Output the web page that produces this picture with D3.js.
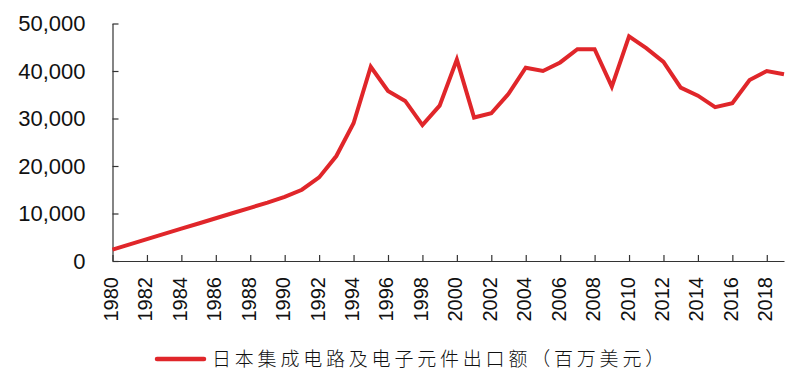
<!DOCTYPE html>
<html>
<head>
<meta charset="utf-8">
<script src="https://cdn.jsdelivr.net/npm/d3@7"></script>
<style>
  body { margin: 0; background: #fff; }
  .axis text { font-family: "Liberation Sans", Arial, sans-serif; fill: #111; }
  .axis path, .axis line { stroke: #333; stroke-width: 1.2; }
</style>
</head>
<body>
<div id="chart"></div>
<script>
// years and export value (million USD)
const years = d3.range(1980, 2020);
const values = [
  2400, 3500, 4600, 5700, 6800, 7900, 9000, 10100, 11200, 12300,
  13500, 15000, 17600, 22100, 29000, 40900, 35800, 33700, 28600, 32700,
  42400, 30200, 31100, 35200, 40700, 40000, 41800, 44600, 44600, 36700,
  47300, 44800, 41900, 36500, 34800, 32400, 33200, 38100, 40000, 39300
];
const yTicks = [0, 10000, 20000, 30000, 40000, 50000];
const xTicks = d3.range(1980, 2019, 2);
const seriesName = "日本集成电路及电子元件出口额（百万美元）";

const W = 800, H = 378;
const margin = { left: 112.5, right: 16, top: 23.5, bottom: 117 };

const svg = d3.select("#chart")
    .append("svg")
    .attr("width", W)
    .attr("height", H);

const x = d3.scaleLinear()
    .domain([1980, 2019])
    .range([margin.left, W - margin.right]);

const y = d3.scaleLinear()
    .domain([0, 50000])
    .range([H - margin.bottom, margin.top]);

// Y axis
svg.append("g")
    .attr("class", "axis")
    .attr("transform", "translate(" + margin.left + ",0)")
    .call(d3.axisLeft(y).tickValues(yTicks).tickSize(-6).tickSizeOuter(0).tickPadding(27)
        .tickFormat(d3.format(",")))
    .call(g => g.selectAll("text").attr("font-size", 22));

// X axis
const xa = svg.append("g")
    .attr("class", "axis")
    .attr("transform", "translate(0," + (H - margin.bottom) + ")")
    .call(d3.axisBottom(x).tickValues(xTicks).tickSize(-6).tickSizeOuter(0).tickFormat(d3.format("d")));

xa.selectAll("text")
    .attr("font-size", 20)
    .attr("text-anchor", "end")
    .attr("x", 0)
    .attr("y", 0)
    .attr("dy", "0.35em")
    .attr("transform", "translate(-2,16) rotate(-90)");

// the line
const line = d3.line()
    .x((d, i) => x(years[i]))
    .y(d => y(d));

svg.append("path")
    .datum(values)
    .attr("fill", "none")
    .attr("stroke", "#e0262a")
    .attr("stroke-width", 4)
    .attr("stroke-linejoin", "miter")
    .attr("d", line);

// legend
const lg = svg.append("g").attr("transform", "translate(157,359)");
lg.append("line")
    .attr("x1", 0).attr("x2", 47)
    .attr("y1", 0).attr("y2", 0)
    .attr("stroke", "#e0262a")
    .attr("stroke-width", 4.5)
    .attr("stroke-linecap", "round");
lg.append("text")
    .attr("x", 55)
    .attr("y", 0)
    .attr("dy", "0.36em")
    .attr("font-family", "'Noto Sans CJK SC', sans-serif")
    .attr("font-weight", 300)
    .attr("font-size", 19)
    .attr("letter-spacing", 3.8)
    .attr("fill", "#111")
    .text(seriesName);
</script>
</body>
</html>
